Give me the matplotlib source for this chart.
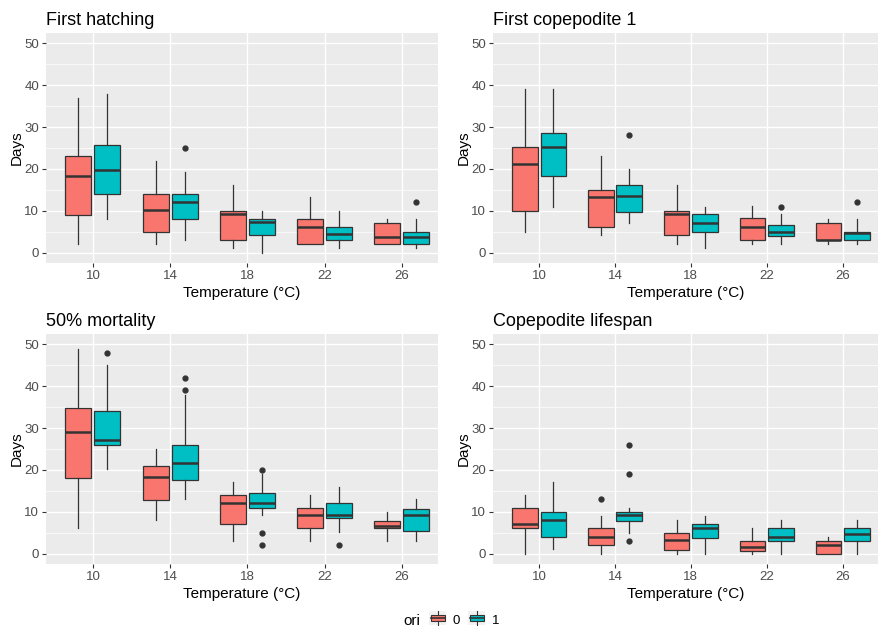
import matplotlib
matplotlib.use("Agg")
import matplotlib.pyplot as plt
from matplotlib.patches import Rectangle, Patch
from matplotlib.lines import Line2D
from matplotlib.legend_handler import HandlerBase

plt.rcParams['font.family'] = ['Liberation Sans', 'DejaVu Sans']

# temperatures on the x axis
temps = [10, 14, 18, 22, 26]

# box stats per temperature: [lower whisker, Q1, median, Q3, upper whisker]
hatch_0 = [[2, 9, 18.2, 23, 37], [2, 5, 10.2, 14, 22], [1.2, 3.1, 9.3, 10, 16.2],
           [2, 2, 6.1, 8, 13.3], [2, 2, 3.6, 7, 8]]
hatch_1 = [[8, 14, 19.8, 25.7, 38], [3, 8, 12.2, 14, 19.3], [0, 4.1, 7.2, 8, 10],
           [1.2, 3.1, 4.5, 6, 10], [1.2, 2, 3.6, 5, 8]]
hatch_out_0 = [[], [], [], [], []]
hatch_out_1 = [[], [25], [], [], [12]]

cope_0 = [[5, 10, 21.2, 25.2, 39], [4.1, 6, 13.3, 15, 23.2], [2.1, 4.1, 9.1, 10, 16.2],
          [2.1, 3.1, 6.1, 8.3, 11.1], [2.1, 3.1, 3.1, 7, 8]]
cope_1 = [[11, 18.2, 25.3, 28.7, 39], [7.1, 9.8, 13.6, 16.2, 20], [1.2, 5, 7.1, 9.3, 11],
          [2.1, 4, 5, 6.6, 9.1], [2.1, 3.1, 4.6, 5, 8]]
cope_out_0 = [[], [], [], [], []]
cope_out_1 = [[], [28], [], [11], [12]]

mort_0 = [[6.2, 18, 29.1, 34.9, 49], [8.1, 12.9, 18.2, 21, 25.1], [3.1, 7, 12.1, 14, 17],
          [3.1, 6.1, 9.1, 10.9, 14], [3.1, 6, 6.7, 7.9, 10]]
mort_1 = [[20.1, 25.9, 27.2, 34.1, 45], [13.1, 17.7, 21.7, 25.9, 38], [9.2, 10.9, 12.1, 14.5, 19],
          [5.1, 8.5, 9.2, 12.1, 16], [3.1, 5.4, 9.1, 10.7, 13]]
mort_out_0 = [[], [], [], [], []]
mort_out_1 = [[48], [42, 39], [20, 5, 2], [2], []]

life_0 = [[0, 6, 7, 10.8, 14], [0, 2, 4, 6, 9], [0, 0.9, 3.2, 5, 8],
          [0, 0.6, 1.5, 3.1, 6], [0, 0, 2.1, 3.1, 4]]
life_1 = [[1, 3.9, 8, 10, 17], [5, 7.8, 9.2, 10, 10.9], [0, 3.7, 6, 7, 9],
          [0, 3.1, 4, 6, 8], [0, 3.1, 4.6, 6, 8]]
life_out_0 = [[], [13], [], [], []]
life_out_1 = [[], [26, 19, 3], [], [], []]

titles = ["First hatching", "First copepodite 1", "50% mortality", "Copepodite lifespan"]
groups = ["0", "1"]
colors = ["#F8766D", "#00BFC4"]

panels = [
    (hatch_0, hatch_1, hatch_out_0, hatch_out_1),
    (cope_0, cope_1, cope_out_0, cope_out_1),
    (mort_0, mort_1, mort_out_0, mort_out_1),
    (life_0, life_1, life_out_0, life_out_1),
]

edge = "#333333"
offset = 0.75
bw = 1.35

fig = plt.figure(figsize=(8.81, 6.29), dpi=100)
lefts = [46 / 881, 493 / 881]
widths = [392 / 881, 385 / 881]
bottoms = [1 - 263 / 629, 1 - 564 / 629]
height = 230 / 629


def make_stats(rows, outs):
    st = []
    for r, o in zip(rows, outs):
        st.append(dict(whislo=r[0], q1=r[1], med=r[2], q3=r[3], whishi=r[4], fliers=o))
    return st


class BoxKey(HandlerBase):
    def create_artists(self, legend, orig, xd, yd, w, h, fontsize, trans):
        fc = orig.get_facecolor()
        arts = [Rectangle((xd, yd - 0.15 * h), w, 1.3 * h, fc="#F2F2F2", ec="none", transform=trans)]
        arts.append(Rectangle((xd + 0.08 * w, yd + 0.2 * h), 0.84 * w, 0.6 * h,
                              fc=fc, ec=edge, lw=0.8, transform=trans))
        arts.append(Line2D([xd + 0.08 * w, xd + 0.92 * w], [yd + 0.5 * h] * 2, color=edge, lw=1.2, transform=trans))
        arts.append(Line2D([xd + 0.5 * w] * 2, [yd + 0.8 * h, yd + 1.15 * h], color=edge, lw=0.8, transform=trans))
        arts.append(Line2D([xd + 0.5 * w] * 2, [yd - 0.15 * h, yd + 0.2 * h], color=edge, lw=0.8, transform=trans))
        return arts


for i, (title, pdata) in enumerate(zip(titles, panels)):
    r, c = divmod(i, 2)
    ax = fig.add_axes([lefts[c], bottoms[r], widths[c], height])
    ax.set_facecolor("#EBEBEB")
    for g in range(2):
        st = make_stats(pdata[g], pdata[g + 2])
        pos = [t + (offset if g else -offset) for t in temps]
        ax.bxp(st, positions=pos, widths=bw, patch_artist=True, showcaps=False,
               boxprops=dict(facecolor=colors[g], edgecolor=edge, linewidth=0.9),
               medianprops=dict(color=edge, linewidth=1.8),
               whiskerprops=dict(color=edge, linewidth=0.9),
               flierprops=dict(marker="o", markerfacecolor=edge, markeredgecolor=edge,
                               markersize=3.5, linestyle="none"),
               zorder=3)
    ax.set_xlim(7.57, 27.87)
    ax.set_ylim(-2.5, 52.5)
    ax.set_xticks(temps)
    ax.set_xticklabels([str(t) for t in temps])
    ax.set_yticks([0, 10, 20, 30, 40, 50])
    ax.set_yticks([5, 15, 25, 35, 45], minor=True)
    ax.grid(True, which="major", color="white", linewidth=1.0, zorder=0)
    ax.grid(True, which="minor", axis="y", color="white", linewidth=0.5, zorder=0)
    ax.set_axisbelow(True)
    ax.tick_params(which="major", colors="#333333", labelcolor="#4D4D4D", labelsize=9.5,
                   length=3, width=0.8, pad=2)
    ax.tick_params(which="minor", length=0)
    for s in ax.spines.values():
        s.set_visible(False)
    ax.set_xlabel("Temperature (°C)", fontsize=11, labelpad=3)
    ax.set_ylabel("Days", fontsize=11, labelpad=0)
    ax.set_title(title, loc="left", fontsize=13, pad=6)

fig.text(0.468, 0.013, "ori", fontsize=11, ha="center", va="center")
handles = [Patch(facecolor=colors[0]), Patch(facecolor=colors[1])]
fig.legend(handles, groups, loc="center", bbox_to_anchor=(0.527, 0.013), ncol=2,
           frameon=False, fontsize=9.5, handler_map={Patch: BoxKey()},
           handlelength=1.3, handleheight=0.9, handletextpad=0.5, columnspacing=0.6,
           borderpad=0.1)

fig.savefig("out.png", dpi=100)
